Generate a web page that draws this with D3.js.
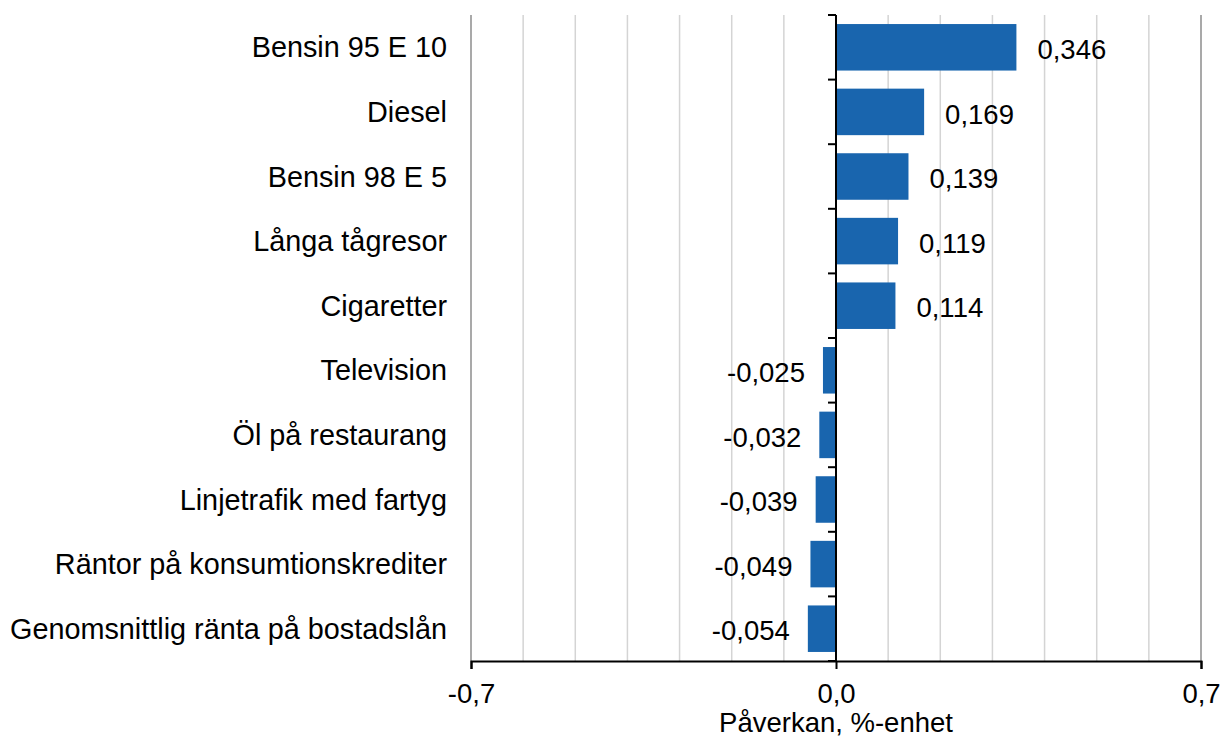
<!DOCTYPE html>
<html>
<head>
<meta charset="UTF-8">
<script src="https://d3js.org/d3.v7.min.js"></script>
<style>
  body { margin: 0; background: #fff; font-family: 'Liberation Sans', Arial, sans-serif; }
  svg text { fill: #000; }
</style>
</head>
<body>
<div id="chart"></div>
<script>
  const categories = [
    "Bensin 95 E 10", "Diesel", "Bensin 98 E 5", "Långa tågresor", "Cigaretter",
    "Television", "Öl på restaurang", "Linjetrafik med fartyg",
    "Räntor på konsumtionskrediter", "Genomsnittlig ränta på bostadslån"
  ];
  const values = [0.346, 0.169, 0.139, 0.119, 0.114, -0.025, -0.032, -0.039, -0.049, -0.054];
  const tickValues = [-0.7, 0.0, 0.7];
  const gridValues = d3.range(-6, 7).map(d => d / 10);
  const axisTitle = "Påverkan, %-enhet";

  const width = 1226, height = 738;
  const margin = { top: 15, right: 25, bottom: 77, left: 471 };
  const fs = "27.5px";
  const fmt = v => d3.format(".3f")(v).replace(".", ",").replace("−", "-");

  const svg = d3.select("#chart").append("svg")
    .attr("width", width).attr("height", height);

  const x = d3.scaleLinear().domain([-0.7, 0.7]).range([margin.left, width - margin.right]);
  const y = d3.scaleBand().domain(categories).range([margin.top, height - margin.bottom]).paddingInner(0.28).paddingOuter(0.14);
  const yb = d3.scaleBand().domain(categories).range([margin.top, height - margin.bottom]);

  // grid
  svg.append("g").selectAll("line").data(gridValues.filter(d => d !== 0)).join("line")
    .attr("x1", d => x(d)).attr("x2", d => x(d))
    .attr("y1", margin.top).attr("y2", height - margin.bottom)
    .attr("stroke", "#d4d4d4").attr("stroke-width", 1.5);

  // left/right frame lines
  svg.append("g").selectAll("line").data([-0.7, 0.7]).join("line")
    .attr("x1", d => x(d)).attr("x2", d => x(d))
    .attr("y1", margin.top).attr("y2", height - margin.bottom)
    .attr("stroke", "#8c8c8c").attr("stroke-width", 1.5);

  // bars
  svg.append("g").selectAll("rect").data(values).join("rect")
    .attr("x", d => x(Math.min(0, d)))
    .attr("width", d => Math.abs(x(d) - x(0)))
    .attr("y", (d, i) => y(categories[i]))
    .attr("height", y.bandwidth())
    .attr("fill", "#1965ae");

  // value labels
  svg.append("g").selectAll("text").data(values).join("text")
    .attr("x", d => d >= 0 ? x(d) + 21 : x(d) - 18)
    .attr("y", (d, i) => y(categories[i]) + y.bandwidth() / 2 + 2)
    .attr("dy", "0.35em")
    .attr("text-anchor", d => d >= 0 ? "start" : "end")
    .style("font-size", fs)
    .text(d => fmt(d));

  // category labels
  svg.append("g").selectAll("text").data(categories).join("text")
    .attr("x", 447)
    .attr("y", d => yb(d) + yb.bandwidth() / 2)
    .attr("dy", "0.35em")
    .attr("text-anchor", "end")
    .style("font-size", "28.8px")
    .text(d => d);

  // zero axis with category ticks
  const zg = svg.append("g").attr("transform", `translate(${x(0)},0)`);
  zg.append("line").attr("y1", margin.top).attr("y2", height - margin.bottom)
    .attr("stroke", "#000").attr("stroke-width", 2);
  zg.selectAll("line.tk").data(d3.range(categories.length + 1)).join("line")
    .attr("class", "tk")
    .attr("x1", -8).attr("x2", 0)
    .attr("y1", i => margin.top + i * yb.step())
    .attr("y2", i => margin.top + i * yb.step())
    .attr("stroke", "#000").attr("stroke-width", 2);

  // bottom axis
  const xAxis = d3.axisBottom(x).tickValues(tickValues).tickSize(8).tickPadding(14)
    .tickFormat(d => d3.format(".1f")(d).replace(".", ",").replace("−", "-"));
  const xg = svg.append("g").attr("transform", `translate(0,${height - margin.bottom})`).call(xAxis);
  xg.select(".domain").attr("stroke", "#000").attr("stroke-width", 2);
  xg.selectAll(".tick line").attr("stroke", "#000").attr("stroke-width", 2);
  xg.selectAll(".tick text").style("font-size", fs).style("font-family", "'Liberation Sans', Arial, sans-serif");

  svg.append("text")
    .attr("x", x(0)).attr("y", 732)
    .attr("text-anchor", "middle")
    .style("font-size", fs)
    .text(axisTitle);
</script>
</body>
</html>
